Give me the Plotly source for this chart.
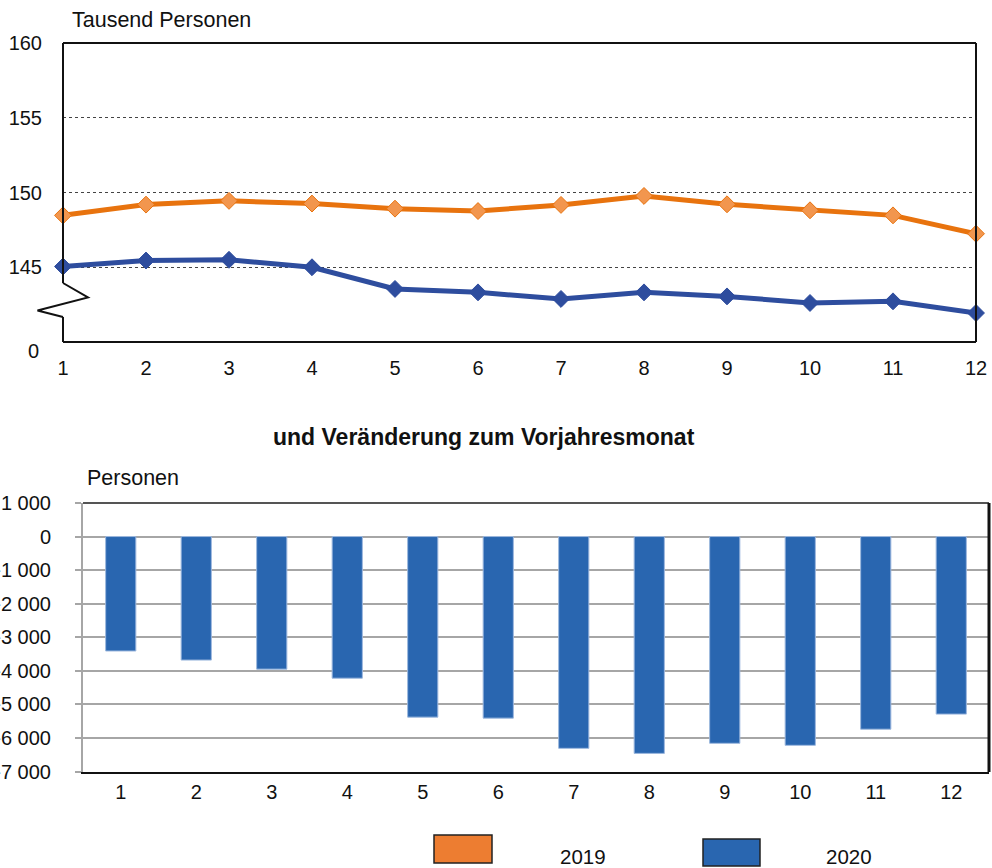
import plotly.graph_objects as go

# ---------------- data ----------------
months = list(range(1, 13))
month_labels = [str(m) for m in months]
series_names = ["2019", "2020"]
persons_2019 = [148.47, 149.19, 149.44, 149.26, 148.92, 148.76, 149.17, 149.77, 149.21, 148.81, 148.47, 147.24]
persons_2020 = [145.05, 145.45, 145.50, 145.00, 143.55, 143.32, 142.88, 143.32, 143.05, 142.61, 142.72, 141.94]
change_2020 = [-3410, -3680, -3950, -4220, -5380, -5410, -6310, -6460, -6160, -6220, -5740, -5290]

top_tickvals = [145, 150, 155, 160]
top_ticktext = ["145", "150", "155", "160"]
bot_tickvals = [1000, 0, -1000, -2000, -3000, -4000, -5000, -6000, -7000]
bot_ticktext = ["1 000", "0", "-1 000", "-2 000", "-3 000", "-4 000", "-5 000", "-6 000", "-7 000"]

W, H = 992, 868
FONT = "Liberation Sans, Arial, sans-serif"
ORANGE = "#E8730E"
ORANGE_M = "#F2964E"
BLUE_L = "#2E4D9E"
BLUE_B = "#2966B0"

TOP_L, TOP_R, TOP_T, TOP_B = 63, 976, 43, 342
BOT_L, BOT_R, BOT_T, BOT_B = 83, 989, 503, 771.5


def px(x):
    return x / W


def py(y):
    return 1 - y / H


fig = go.Figure()

fig.add_trace(go.Scatter(
    x=months, y=persons_2019, mode="lines+markers", name=series_names[0],
    line=dict(color=ORANGE, width=5),
    marker=dict(symbol="diamond", size=13, color=ORANGE_M, line=dict(color=ORANGE, width=1)),
    xaxis="x", yaxis="y", showlegend=False, cliponaxis=False,
))
fig.add_trace(go.Scatter(
    x=months, y=persons_2020, mode="lines+markers", name=series_names[1],
    line=dict(color=BLUE_L, width=5),
    marker=dict(symbol="diamond", size=13, color=BLUE_L, line=dict(color=BLUE_L, width=1)),
    xaxis="x", yaxis="y", showlegend=False, cliponaxis=False,
))
fig.add_trace(go.Bar(
    x=months, y=change_2020, name=series_names[1],
    marker=dict(color=BLUE_B, line=dict(color="#9DB8DE", width=1)),
    xaxis="x2", yaxis="y2", showlegend=False,
))

tickfont = dict(family=FONT, size=20, color="#111")

fig.update_layout(
    template="none",
    width=W, height=H,
    margin=dict(l=0, r=0, t=0, b=0, pad=0),
    paper_bgcolor="white", plot_bgcolor="white",
    font=dict(family=FONT, size=20, color="#111"),
    bargap=0.6,
    showlegend=False,
    xaxis=dict(
        domain=[px(TOP_L), px(TOP_R)], anchor="y", range=[1, 12], automargin=False,
        tickvals=months, ticktext=month_labels, tickfont=tickfont,
        showgrid=False, showline=False, zeroline=False, ticks="",
        ticklabelstandoff=12, ticklabeloverflow="allow",
    ),
    yaxis=dict(
        domain=[py(TOP_B), py(TOP_T)], anchor="x", range=[140, 160], automargin=False,
        tickvals=top_tickvals, ticktext=top_ticktext, tickfont=tickfont,
        showgrid=True, gridcolor="#444", gridwidth=1, griddash="dot",
        showline=False, zeroline=False, ticks="", ticklabelstandoff=20,
    ),
    xaxis2=dict(
        domain=[px(BOT_L), px(BOT_R)], anchor="y2", range=[0.5, 12.5], automargin=False,
        tickvals=months, ticktext=month_labels, tickfont=tickfont,
        showgrid=False, showline=True, linecolor="#111", linewidth=2,
        zeroline=False, ticks="", ticklabelstandoff=1,
    ),
    yaxis2=dict(
        domain=[py(BOT_B), py(BOT_T)], anchor="x2", range=[-7000, 1000], automargin=False,
        tickvals=bot_tickvals, ticktext=bot_ticktext, tickfont=tickfont,
        showgrid=True, gridcolor="#A6A6A6", gridwidth=2,
        zeroline=True, zerolinecolor="#A6A6A6", zerolinewidth=2,
        showline=True, linecolor="#A6A6A6", linewidth=2,
        ticks="outside", ticklen=6, tickcolor="#A6A6A6", tickwidth=2,
        ticklabelstandoff=20,
    ),
)

shapes = []
blk = dict(color="#111", width=2)
# top chart frame with axis break
for (x0, y0, x1, y1) in [(TOP_L, TOP_T, TOP_R, TOP_T), (TOP_R, TOP_T, TOP_R, TOP_B),
                         (TOP_L, TOP_B, TOP_R, TOP_B),
                         (TOP_L, TOP_T, TOP_L, 283), (TOP_L, 317, TOP_L, TOP_B)]:
    shapes.append(dict(type="line", xref="paper", yref="paper",
                       x0=px(x0), y0=py(y0), x1=px(x1), y1=py(y1), line=blk))
zig = [(TOP_L, 283), (88, 297.5), (37.5, 310.5), (TOP_L, 317)]
path = "M " + " L ".join(f"{px(a):.5f},{py(b):.5f}" for a, b in zig)
shapes.append(dict(type="path", xref="paper", yref="paper", path=path, line=blk))
# bottom chart border (top and right)
shapes.append(dict(type="line", xref="paper", yref="paper", x0=px(BOT_L), y0=py(BOT_T), x1=px(BOT_R), y1=py(BOT_T),
                   line=dict(color="#555", width=2)))
shapes.append(dict(type="line", xref="paper", yref="paper", x0=px(BOT_R), y0=py(BOT_T), x1=px(BOT_R), y1=py(772),
                   line=dict(color="#111", width=3)))
# legend boxes
shapes.append(dict(type="rect", xref="paper", yref="paper", x0=px(434), y0=py(863), x1=px(492), y1=py(835),
                   fillcolor="#ED7D31", line=dict(color="#222", width=1.5)))
shapes.append(dict(type="rect", xref="paper", yref="paper", x0=px(703), y0=py(866), x1=px(760), y1=py(839),
                   fillcolor=BLUE_B, line=dict(color="#222", width=1.5)))

annotations = [
    dict(text="Tausend Personen", x=px(70), y=py(20), xref="paper", yref="paper",
         xanchor="left", yanchor="middle", showarrow=False, font=dict(family=FONT, size=21.5)),
    dict(text="0", x=px(41), y=140, xref="paper", yref="y", xanchor="right", yanchor="middle",
         yshift=-9, showarrow=False, font=tickfont),
    dict(text="<b>und Veränderung zum Vorjahresmonat</b>", x=px(484), y=py(437), xref="paper", yref="paper",
         xanchor="center", yanchor="middle", showarrow=False, font=dict(family=FONT, size=23)),
    dict(text="Personen", x=px(85), y=py(478), xref="paper", yref="paper",
         xanchor="left", yanchor="middle", showarrow=False, font=dict(family=FONT, size=21.5)),
    dict(text=series_names[0], x=px(583), y=py(856), xref="paper", yref="paper",
         xanchor="center", yanchor="middle", showarrow=False, font=dict(family=FONT, size=20.5)),
    dict(text=series_names[1], x=px(849), y=py(856), xref="paper", yref="paper",
         xanchor="center", yanchor="middle", showarrow=False, font=dict(family=FONT, size=20.5)),
]

fig.update_layout(shapes=shapes, annotations=annotations)
fig.write_html(
    "out.html",
    config={"displayModeBar": False},
    post_script="document.body.style.margin='0';document.body.style.overflow='hidden';",
)
